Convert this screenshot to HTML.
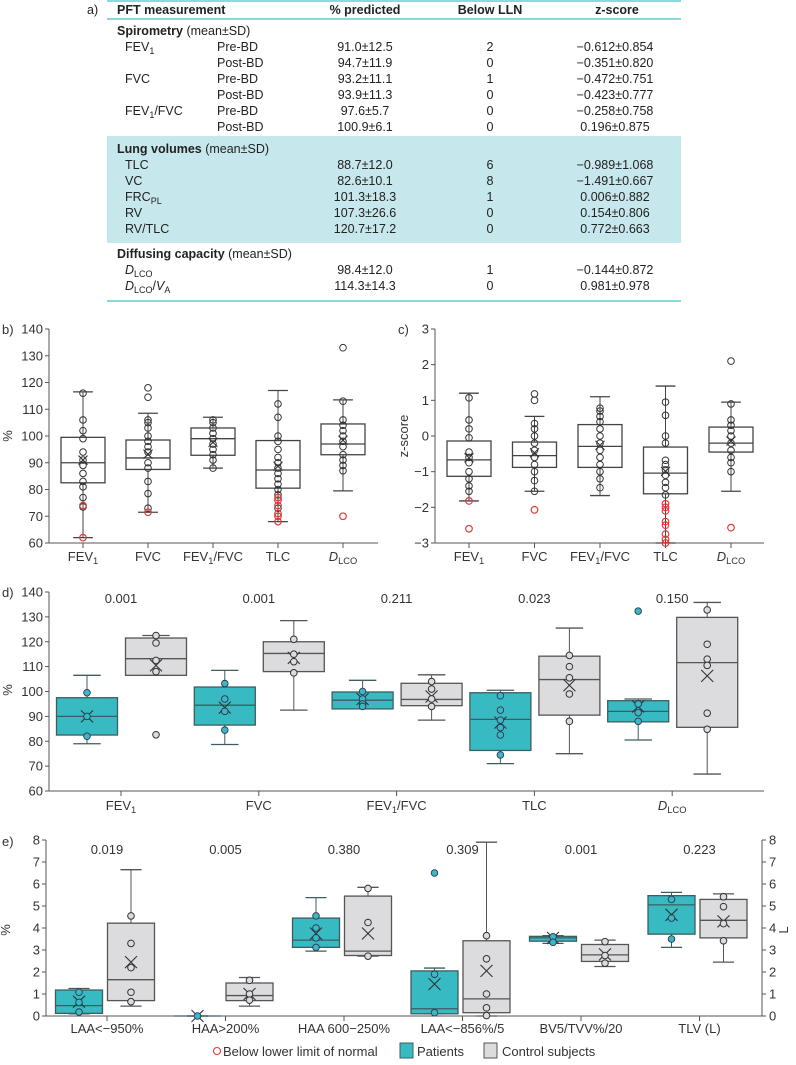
<!DOCTYPE html>
<html><head><meta charset="utf-8"><style>
body{margin:0;background:#fff;}
svg{display:block;font-family:"Liberation Sans Narrow","Liberation Sans",sans-serif;}
</style></head><body>
<svg id="fig" width="796" height="1065" viewBox="0 0 796 1065" xmlns="http://www.w3.org/2000/svg">
<g id="table" font-size="12.5" fill="#222">
<line x1="107" y1="1" x2="681" y2="1" stroke="#62cdd4" stroke-width="1.5"/>
<rect x="107" y="136" width="574" height="107" fill="#c6e7eb"/>
<text x="87" y="14">a)</text>
<text x="117" y="14" font-weight="bold">PFT measurement</text>
<text x="365" y="14" font-weight="bold" text-anchor="middle">% predicted</text>
<text x="490" y="14" font-weight="bold" text-anchor="middle">Below LLN</text>
<text x="617" y="14" font-weight="bold" text-anchor="middle">z-score</text>
<line x1="107" y1="19" x2="681" y2="19" stroke="#62cdd4" stroke-width="1.5"/>
<line x1="107" y1="301" x2="681" y2="301" stroke="#62cdd4" stroke-width="1.5"/>
</g>
<g id="charts"></g>
</svg>
<script>
// ---------- table data ----------
const tSections=[['Spirometry',31],['Lung volumes',149],['Diffusing capacity',254]];
const tNames=['FEV_{1}','','FVC','','FEV_{1}/FVC','','TLC','VC','FRC_{PL}','RV','RV/TLC','*D*_{LCO}','*D*_{LCO}/*V*_{A}'];
const tSub=['Pre-BD','Post-BD','Pre-BD','Post-BD','Pre-BD','Post-BD','','','','','','',''];
const tPred=['91.0±12.5','94.7±11.9','93.2±11.1','93.9±11.3','97.6±5.7','100.9±6.1','88.7±12.0','82.6±10.1','101.3±18.3','107.3±26.6','120.7±17.2','98.4±12.0','114.3±14.3'];
const tLLN=['2','0','1','0','0','0','6','8','1','0','0','1','0'];
const tZ=['−0.612±0.854','−0.351±0.820','−0.472±0.751','−0.423±0.777','−0.258±0.758','0.196±0.875','−0.989±1.068','−1.491±0.667','0.006±0.882','0.154±0.806','0.772±0.663','−0.144±0.872','0.981±0.978'];
const tRowY=[47,63,79,95,111,127,165,181,197,213,229,270,286];

// ---------- panel b ----------
const bCats=['FEV_{1}','FVC','FEV_{1}/FVC','TLC','*D*_{LCO}'];
const bTicks=[60,70,80,90,100,110,120,130,140];
const bQ1=[82.5,87.5,92.8,80.5,93];
const bMed=[90,91.8,99,87.3,97];
const bQ3=[99.5,98.5,103,98.3,104.5];
const bLo=[62,71.5,88,68,79.5];
const bHi=[116.5,108.5,107,117,113.5];
const bMean=[91,93.2,97.6,88.7,98.4];
const bPts=[[116,106,102,99,94,91,89,86,83,81,77,73.5],[118,114.5,106,105,103,100,98,96,94,90,88,83,78.5,73],[106,105,103,101,99,97,95,93,91,88],[112,107,100,98,95,92,90,88,86,84,82,80,78,73],[133,113,106,104,102,100,98,96,93,91,89,87]];
const bRed=[[62,74],[71.5],[],[77,76,74,71,70,68],[70]];

// ---------- panel c ----------
const cCats=['FEV_{1}','FVC','FEV_{1}/FVC','TLC','*D*_{LCO}'];
const cTicks=[-3,-2,-1,0,1,2,3];
const cQ1=[-1.13,-0.88,-0.88,-1.62,-0.45];
const cMed=[-0.67,-0.55,-0.29,-1.04,-0.2];
const cQ3=[-0.14,-0.17,0.32,-0.31,0.25];
const cLo=[-1.82,-1.55,-1.67,-3,-1.55];
const cHi=[1.2,0.55,1.1,1.4,0.95];
const cMean=[-0.61,-0.47,-0.26,-0.99,-0.14];
const cPts=[[1.07,0.45,0.2,-0.05,-0.45,-0.6,-0.75,-1.0,-1.2,-1.4,-1.55],[1.18,1.0,0.35,0.2,0,-0.2,-0.4,-0.6,-0.8,-1.0,-1.25,-1.55],[0.78,0.7,0.55,0.4,0.2,0,-0.2,-0.4,-0.6,-0.8,-1.0,-1.2,-1.45],[0.95,0.58,0,-0.2,-0.68,-0.8,-0.95,-1.1,-1.3,-1.45,-1.65],[2.1,0.9,0.45,0.3,0.15,0,-0.2,-0.4,-0.6,-0.75,-1.0]];
const cRed=[[-1.82,-2.6],[-2.07],[],[-1.9,-2.0,-2.1,-2.4,-2.5,-2.75,-2.9,-3],[-2.57]];

// ---------- panel d ----------
const dCats=['FEV_{1}','FVC','FEV_{1}/FVC','TLC','*D*_{LCO}'];
const dTicks=[60,70,80,90,100,110,120,130,140];
const dP=['0.001','0.001','0.211','0.023','0.150'];
const dPatQ1=[82.5,86.5,93,76.3,87.8];
const dPatMed=[90,94.5,96.5,88.8,92];
const dPatQ3=[97.5,101.8,99.8,99.5,96.3];
const dPatLo=[79,78.7,93.5,71,80.5];
const dPatHi=[106.5,108.5,104.5,100.5,97];
const dPatMean=[90,93.5,97,87.5,94];
const dPatPts=[[99.5,90,82],[103.2,97,92,84.5],[100,97,95,94],[98.3,92.5,88.5,85.5,82.5,74.5],[132.3,95,91.5,88]];
const dConQ1=[106.5,108,94.3,90.5,85.6];
const dConMed=[113.2,115.3,96.8,104.8,111.6];
const dConQ3=[121.5,120,103.3,114.2,129.8];
const dConLo=[106.5,92.5,88.5,75,66.8];
const dConHi=[122.5,128.5,106.7,125.5,135.8];
const dConMean=[110.5,113.5,98,102.5,106.3];
const dConPts=[[122.5,119.5,112.5,108,82.6],[121,115,112,107.5],[104,101,97,94],[114.5,110,105.5,99,88],[132.8,119,113,110.5,91.3,84.8]];

// ---------- panel e ----------
const eCats=['LAA<−950%','HAA>200%','HAA 600−250%','LAA<−856%/5','BV5/TVV%/20','TLV (L)'];
const eTicks=[0,1,2,3,4,5,6,7,8];
const eP=['0.019','0.005','0.380','0.309','0.001','0.223'];
const ePatQ1=[0.12,0,3.12,0.1,3.4,3.72];
const ePatMed=[0.47,0,3.45,0.33,3.55,5.05];
const ePatQ3=[1.18,0,4.45,2.05,3.62,5.47];
const ePatLo=[0.1,0,2.95,0.1,3.3,3.12];
const ePatHi=[1.25,0,5.38,2.18,3.65,5.62];
const ePatMean=[0.65,0,3.75,1.45,3.55,4.6];
const ePatPts=[[1.08,0.62,0.18],[0],[4.55,4.0,3.55,3.12],[6.5,1.9,0.15],[3.6,3.35],[5.3,4.45,3.5]];
const eConQ1=[0.7,0.7,2.75,0.15,2.48,3.55];
const eConMed=[1.65,0.93,2.95,0.78,2.78,4.35];
const eConQ3=[4.22,1.5,5.45,3.42,3.25,5.3];
const eConLo=[0.45,0.45,2.72,0,2.25,2.45];
const eConHi=[6.65,1.75,5.85,7.9,3.45,5.55];
const eConMean=[2.45,1.0,3.75,2.05,2.8,4.3];
const eConPts=[[4.55,3.3,2.2,1.08,0.65],[1.62,1.0,0.72],[5.8,4.25,2.72],[3.65,2.6,1.0,0.37,0.02],[3.38,2.75,2.4],[5.42,4.97,4.2,3.42]];

const NS='http://www.w3.org/2000/svg';
const root=document.getElementById('charts');
const tbl=document.getElementById('table');
function mk(tag,attrs,parent){const e=document.createElementNS(NS,tag);for(const k in attrs)e.setAttribute(k,attrs[k]);(parent||root).appendChild(e);return e;}
function rich(t,str){
  const re=/(\*[^*]+\*)|(_\{[^}]+\})|([^*_]+)/g;let m;
  while((m=re.exec(str))){
    const ts=document.createElementNS(NS,'tspan');
    if(m[1]){ts.textContent=m[1].slice(1,-1);ts.setAttribute('font-style','italic');}
    else if(m[2]){ts.textContent=m[2].slice(2,-1);ts.setAttribute('font-size','0.72em');ts.setAttribute('dy','3');}
    else{ts.textContent=m[3];}
    const prevSub=t.lastChild&&t.lastChild.getAttribute&&t.lastChild.getAttribute('dy')==='3';
    if(prevSub&&!m[2])ts.setAttribute('dy','-3');
    if(prevSub&&m[2])ts.removeAttribute('dy');
    t.appendChild(ts);
  }
}
// table
tSections.forEach(s=>{
  const t=mk('text',{x:117,y:s[1]+4},tbl);
  
  
  const b=document.createElementNS(NS,'tspan');b.setAttribute('font-weight','bold');b.textContent=s[0];t.appendChild(b);
  const r=document.createElementNS(NS,'tspan');r.textContent=' (mean±SD)';t.appendChild(r);
});
tRowY.forEach((y,i)=>{
  if(tNames[i]){const t=mk('text',{x:125,y:y+4},tbl);rich(t,tNames[i]);}
  if(tSub[i]){const t=mk('text',{x:217,y:y+4},tbl);t.textContent=tSub[i];}
  let t=mk('text',{x:365,y:y+4,'text-anchor':'middle'},tbl);t.textContent=tPred[i];
  t=mk('text',{x:490,y:y+4,'text-anchor':'middle'},tbl);t.textContent=tLLN[i];
  t=mk('text',{x:615,y:y+4,'text-anchor':'middle'},tbl);t.textContent=tZ[i];
});

function scale(v0,v1,p0,p1){return v=>p0+(v-v0)*(p1-p0)/(v1-v0);}
function axes(g,o){
  mk('line',{x1:o.x0,y1:o.yb,x2:o.x0,y2:o.yt,stroke:'#555','stroke-width':1},g);
  mk('line',{x1:o.x0,y1:o.yb,x2:o.x1,y2:o.yb,stroke:'#555','stroke-width':1},g);
  o.ticks.forEach(v=>{const y=o.ys(v);
    mk('line',{x1:o.x0-4,y1:y,x2:o.x0,y2:y,stroke:'#555'},g);
    const t=mk('text',{x:o.x0-6,y:y+4.5,'text-anchor':'end','font-size':13,fill:'#333'},g);
    
    t.textContent=String(v).replace('-','−');
  });
  if(o.right){mk('line',{x1:o.x1,y1:o.yb,x2:o.x1,y2:o.yt,stroke:'#555'},g);
    o.ticks.forEach(v=>{const y=o.ys(v);mk('line',{x1:o.x1,y1:y,x2:o.x1+4,y2:y,stroke:'#555'},g);
      const t=mk('text',{x:o.x1+7,y:y+4.5,'font-size':13,fill:'#333'},g);t.textContent=v;});}
  o.cats.forEach((c,i)=>{const x=o.xs(i);
    mk('line',{x1:x,y1:o.yb,x2:x,y2:o.yb+5,stroke:'#555'},g);
    const t=mk('text',{x:x,y:o.yb+o.ly,'text-anchor':'middle','font-size':13,fill:'#333'},g);
    rich(t,c);
  });
}
function box(g,cx,w,ys,q1,med,q3,lo,hi,mean,fill,stroke,xs){
  const cap=w*0.45;
  mk('line',{x1:cx,y1:ys(lo),x2:cx,y2:ys(q1),stroke:stroke},g);
  mk('line',{x1:cx,y1:ys(q3),x2:cx,y2:ys(hi),stroke:stroke},g);
  mk('line',{x1:cx-cap/2,y1:ys(lo),x2:cx+cap/2,y2:ys(lo),stroke:stroke,'stroke-width':1.3},g);
  mk('line',{x1:cx-cap/2,y1:ys(hi),x2:cx+cap/2,y2:ys(hi),stroke:stroke,'stroke-width':1.3},g);
  const r=mk('rect',{x:cx-w/2,y:ys(q3),width:w,height:Math.max(0,ys(q1)-ys(q3)),fill:fill,stroke:stroke,'stroke-width':1.3},g);
  
  mk('line',{x1:cx-w/2,y1:ys(med),x2:cx+w/2,y2:ys(med),stroke:stroke,'stroke-width':1.3},g);
  const m=ys(mean);
  mk('path',{d:`M${cx-xs},${m-xs}L${cx+xs},${m+xs}M${cx-xs},${m+xs}L${cx+xs},${m-xs}`,stroke:'#333','stroke-width':1.1,fill:'none'},g);
}
function dot(g,cx,y,r,fill,stroke,sw){const c=mk('circle',{cx:cx,cy:y,r:r,fill:fill,stroke:stroke,'stroke-width':sw||1},g);}
function label(g,x,y,txt,name,extra){const t=mk('text',Object.assign({x:x,y:y,'font-size':13,fill:'#333'},extra||{}),g);t.textContent=txt;return t;}

// panel b & c
function simplePanel(id,o,Q1,Med,Q3,Lo,Hi,Mean,Pts,Red){
  const g=mk('g',{});
  axes(g,o);
  o.cats.forEach((c,i)=>{const cx=o.xs(i);
    box(g,cx,44,o.ys,Q1[i],Med[i],Q3[i],Lo[i],Hi[i],Mean[i],'none','#444',4.5);
    Pts[i].forEach(v=>dot(g,cx,o.ys(v),3.3,'none','#333',1));
    Red[i].forEach(v=>{dot(g,cx,o.ys(v),3.3,'none','#e23a3a',1.2);});
  });
  return g;
}
const bys=scale(60,140,543,329);
const gb=simplePanel('panel-b',{x0:49,x1:378,yb:543,yt:329,ys:bys,ticks:bTicks,cats:bCats,xs:i=>83+i*65,ly:18},bQ1,bMed,bQ3,bLo,bHi,bMean,bPts,bRed);
label(gb,2,334,'b)','panel-b-label');
label(gb,12,436,'%','y-axis-title',{transform:'rotate(-90 12 436)','text-anchor':'middle'});
const cys=scale(-3,3,543,329);
const gc=simplePanel('panel-c',{x0:435,x1:764,yb:543,yt:329,ys:cys,ticks:cTicks,cats:cCats,xs:i=>469+i*65.5,ly:18},cQ1,cMed,cQ3,cLo,cHi,cMean,cPts,cRed);
label(gc,398,334,'c)','panel-c-label');
label(gc,408,436,'z-score','y-axis-title',{transform:'rotate(-90 408 436)','text-anchor':'middle'});

// grouped panels
const TEAL='#38bac2', GREY='#dcdcde';
function groupPanel(id,o,P,PQ1,PMed,PQ3,PLo,PHi,PMean,PPts,CQ1,CMed,CQ3,CLo,CHi,CMean,CPts){
  const g=mk('g',{});
  axes(g,o);
  o.cats.forEach((c,i)=>{const x=o.xs(i);
    const px=x+o.po,cx=x+o.co;
    box(g,px,o.bw,o.ys,PQ1[i],PMed[i],PQ3[i],PLo[i],PHi[i],PMean[i],TEAL,'#3f5d60',6);
    PPts[i].forEach(v=>dot(g,px,o.ys(v),3.3,TEAL,'#335',0.9));
    box(g,cx,o.bw,o.ys,CQ1[i],CMed[i],CQ3[i],CLo[i],CHi[i],CMean[i],GREY,'#555',6);
    CPts[i].forEach(v=>dot(g,cx,o.ys(v),3.3,GREY,'#333',1));
    label(g,x+o.pvo,o.py,P[i],'p-value',{'text-anchor':'middle'});
  });
  return g;
}
const dys=scale(60,140,791,592);
const gd=groupPanel('panel-d',{x0:49,x1:764,yb:791,yt:592,ys:dys,ticks:dTicks,cats:dCats,xs:i=>121+i*137.8,ly:19,po:-34,co:35,bw:61,pvo:0,py:603},dP,dPatQ1,dPatMed,dPatQ3,dPatLo,dPatHi,dPatMean,dPatPts,dConQ1,dConMed,dConQ3,dConLo,dConHi,dConMean,dConPts);
label(gd,2,597,'d)','panel-d-label');
label(gd,12,690,'%','y-axis-title',{transform:'rotate(-90 12 690)','text-anchor':'middle'});
const eys=scale(0,8,1016,840);
const ge=groupPanel('panel-e',{x0:46,x1:762,yb:1016,yt:840,ys:eys,ticks:eTicks,cats:eCats,xs:i=>107+i*118.5,ly:17,po:-28,co:24,bw:47,pvo:0,py:854,right:true},eP,ePatQ1,ePatMed,ePatQ3,ePatLo,ePatHi,ePatMean,ePatPts,eConQ1,eConMed,eConQ3,eConLo,eConHi,eConMean,eConPts);
label(ge,2,846,'e)','panel-e-label');
label(ge,10,930,'%','y-axis-title',{transform:'rotate(-90 10 930)','text-anchor':'middle'});
label(ge,788,930,'L','right-axis-title',{transform:'rotate(-90 788 930)','text-anchor':'middle'});

// legend
const lg=mk('g',{});
mk('circle',{cx:217,cy:1051,r:3.5,fill:'none',stroke:'#e23a3a','stroke-width':1.1},lg);
label(lg,223,1056,'Below lower limit of normal','legend-below-lln');
const s1=mk('rect',{x:400,y:1043,width:13,height:15,fill:TEAL,stroke:'#3f5d60'},lg);
label(lg,417,1056,'Patients','legend-patients');
const s2=mk('rect',{x:484,y:1043,width:13,height:15,fill:GREY,stroke:'#555'},lg);
label(lg,502,1056,'Control subjects','legend-controls');
</script>
</body></html>
